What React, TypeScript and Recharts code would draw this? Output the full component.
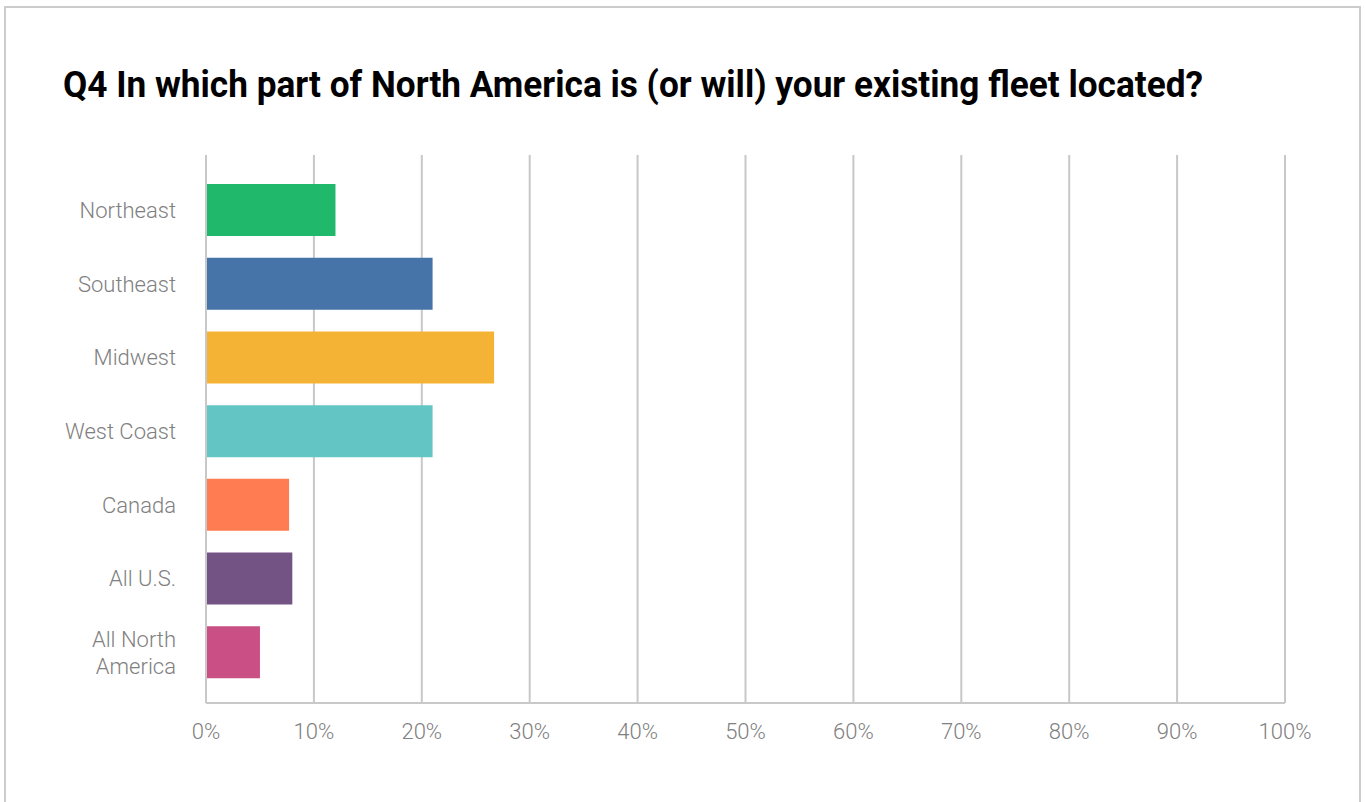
import React from 'react';
import { BarChart, Bar, Cell, XAxis, YAxis, CartesianGrid } from 'recharts';

const TITLE = 'Q4 In which part of North America is (or will) your existing fleet located?';
const CATEGORIES = ['Northeast', 'Southeast', 'Midwest', 'West Coast', 'Canada', 'All U.S.', 'All North America'];
const SHARES = [12, 21, 26.7, 21, 7.7, 8.0, 5.0];
const COLORS = ['#20b96b', '#4673a8', '#f5b335', '#64c5c5', '#ff7c52', '#725383', '#c94f84'];
const X_TICKS = [0, 10, 20, 30, 40, 50, 60, 70, 80, 90, 100];
// labels that wrap onto two lines in the original
const WRAPPED: Record<string, string[]> = {
  'All North America': ['All North', 'America'],
};

const data = CATEGORIES.map((name, i) => ({ name, value: SHARES[i] }));

const FONT = 'Roboto, sans-serif';

function CategoryTick({ x, y, payload }: any) {
  const lines = WRAPPED[payload.value] ?? [payload.value];
  const lh = 27;
  const start = y - ((lines.length - 1) * lh) / 2;
  return (
    <text x={x} y={start} textAnchor="end" fill="#808080" fontSize={22} fontFamily={FONT} fontWeight={300} dominantBaseline="central">
      {lines.map((l, i) => (
        <tspan key={i} x={x} y={start + i * lh}>
          {l}
        </tspan>
      ))}
    </text>
  );
}

export default function App() {
  return (
    <div style={{ position: 'fixed', left: 0, top: 0, width: 1366, height: 802, background: '#fff', overflow: 'hidden' }}>
      <div
        style={{
          position: 'absolute',
          left: 4,
          top: 6,
          width: 1357,
          height: 820,
          border: '2px solid #cccccc',
          boxSizing: 'border-box',
        }}
      />
      <svg width={1366} height={130} style={{ position: 'absolute', left: 0, top: 0 }}>
        <text
          x={63}
          y={97}
          fontFamily={FONT}
          fontWeight={700}
          fontSize={36}
          fill="#000"
          textLength={1140}
          lengthAdjust="spacingAndGlyphs"
        >
          {TITLE}
        </text>
      </svg>
      <div style={{ position: 'absolute', left: 0, top: 0 }}>
        <BarChart
          width={1366}
          height={802}
          data={data}
          layout="vertical"
          margin={{ top: 155, right: 81, bottom: 69, left: 0 }}
        >
          <CartesianGrid horizontal={false} vertical stroke="#c8c8c8" strokeWidth={2} />
          <XAxis
            type="number"
            domain={[0, 100]}
            ticks={X_TICKS}
            tickFormatter={(v) => `${v}%`}
            axisLine={{ stroke: '#c8c8c8', strokeWidth: 2 }}
            tickLine={false}
            tickMargin={14}
            height={30}
            tick={{ fill: '#808080', fontSize: 22, fontFamily: FONT, fontWeight: 300 }}
            interval={0}
          />
          <YAxis
            type="category"
            dataKey="name"
            width={206}
            axisLine={{ stroke: '#c8c8c8', strokeWidth: 2 }}
            tickLine={false}
            tickMargin={24}
            tick={<CategoryTick />}
            padding={{ top: 18, bottom: 14 }}
            interval={0}
          />
          <Bar dataKey="value" barSize={52} isAnimationActive={false}>
            {data.map((d, i) => (
              <Cell key={d.name} fill={COLORS[i]} />
            ))}
          </Bar>
        </BarChart>
      </div>
    </div>
  );
}
